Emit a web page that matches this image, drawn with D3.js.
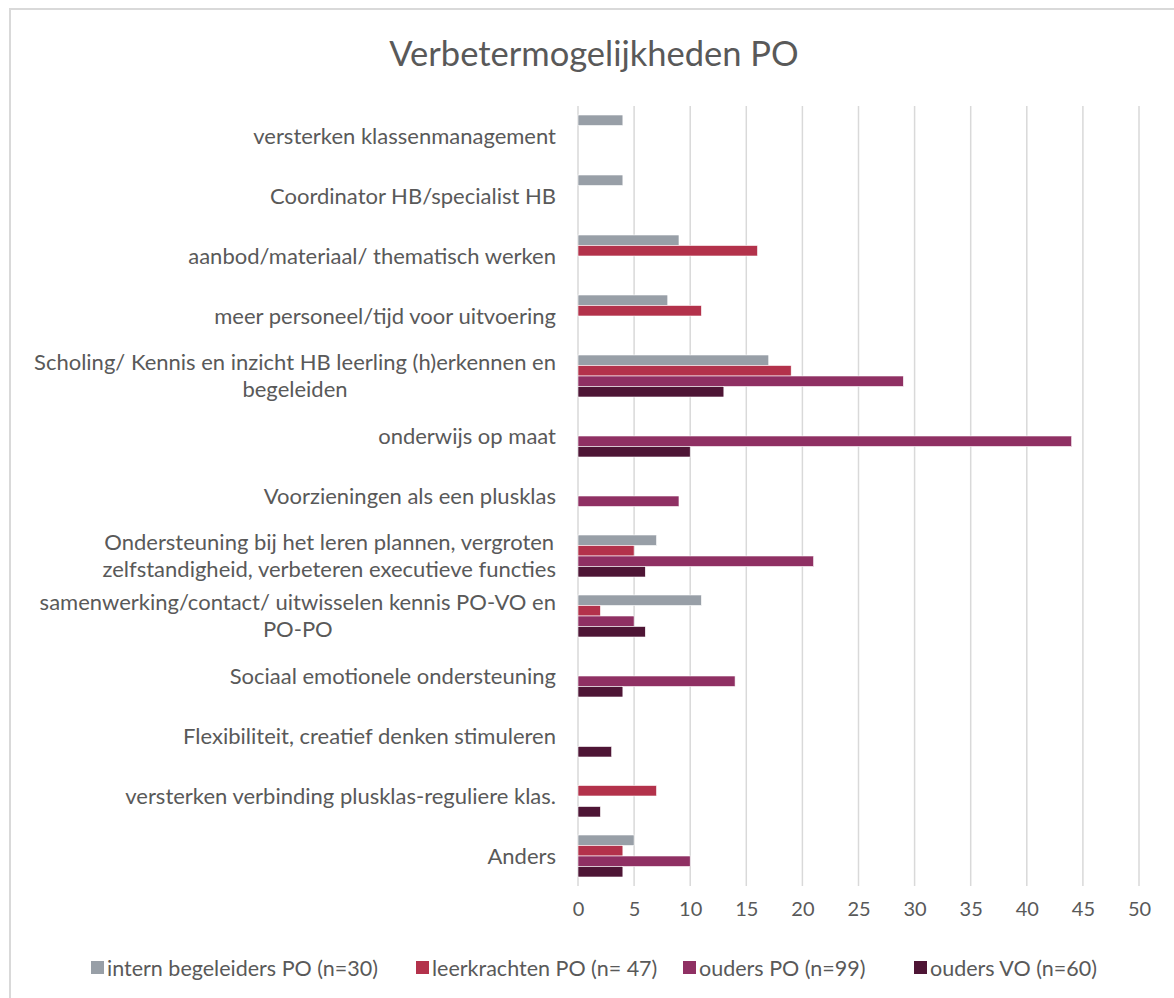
<!DOCTYPE html>
<html>
<head>
<meta charset="utf-8">
<script src="https://cdn.jsdelivr.net/npm/d3@7"></script>
<style>
  body { margin: 0; background: #fff; }
  text { font-family: Lato, "Open Sans", sans-serif; fill: #595959; }
</style>
</head>
<body>
<svg width="1174" height="998"></svg>
<script>
// categories, top to bottom (each entry is the list of lines of its label)
const categories = [
    ["versterken klassenmanagement"],
    ["Coordinator HB/specialist HB"],
    ["aanbod/materiaal/ thematisch werken"],
    ["meer personeel/tijd voor uitvoering"],
    ["Scholing/ Kennis en inzicht HB leerling (h)erkennen en", "begeleiden"],
    ["onderwijs op maat"],
    ["Voorzieningen als een plusklas"],
    ["Ondersteuning bij het leren plannen, vergroten", "zelfstandigheid, verbeteren executieve functies"],
    ["samenwerking/contact/ uitwisselen kennis PO-VO en", "PO-PO"],
    ["Sociaal emotionele ondersteuning"],
    ["Flexibiliteit, creatief denken stimuleren"],
    ["versterken verbinding plusklas-reguliere klas."],
    ["Anders"]
];

const seriesNames = ["intern begeleiders PO (n=30)", "leerkrachten PO (n= 47)", "ouders PO (n=99)", "ouders VO (n=60)"];

// values per series, same order as categories (0 = no bar)
const internBegeleiders = [4, 4, 9, 8, 17, 0, 0, 7, 11, 0, 0, 0, 5];
const leerkrachten      = [0, 0, 16, 11, 19, 0, 0, 5, 2, 0, 0, 7, 4];
const oudersPO          = [0, 0, 0, 0, 29, 44, 9, 21, 5, 14, 0, 0, 10];
const oudersVO          = [0, 0, 0, 0, 13, 10, 0, 6, 6, 4, 3, 2, 4];

const xTicks = [0, 5, 10, 15, 20, 25, 30, 35, 40, 45, 50];

const seriesValues = [internBegeleiders, leerkrachten, oudersPO, oudersVO];
const colors = ["#989fa7", "#b3324b", "#8f3063", "#4e1535"];

const svg = d3.select("svg");

// chart frame
svg.append("rect")
   .attr("x", 10).attr("y", 9)
   .attr("width", 1180).attr("height", 1000)
   .attr("fill", "none")
   .attr("stroke", "#d9d9d9")
   .attr("stroke-width", 2);

svg.append("text")
   .attr("x", 594).attr("y", 66)
   .attr("text-anchor", "middle")
   .style("font-size", "34.5px")
   .text("Verbetermogelijkheden PO");

const plotLeft = 578, plotRight = 1139, plotTop = 106, plotBottom = 886;

const x = d3.scaleLinear().domain([0, 50]).range([plotLeft, plotRight]);
const y = d3.scaleBand().domain(d3.range(categories.length)).range([plotTop, plotBottom]).paddingInner(0.3).paddingOuter(0.15);
const ySub = d3.scaleBand().domain(d3.range(seriesNames.length)).range([0, y.bandwidth()]);

// gridlines
svg.append("g")
   .selectAll("line")
   .data(xTicks)
   .join("line")
   .attr("x1", d => x(d)).attr("x2", d => x(d))
   .attr("y1", plotTop).attr("y2", plotBottom)
   .attr("stroke", "#d9d9d9")
   .attr("stroke-width", 1.5);

// x axis tick labels
const xAxis = svg.append("g")
   .attr("transform", `translate(0,${plotBottom})`)
   .call(d3.axisBottom(x).tickValues(xTicks).tickSize(0).tickPadding(16));
xAxis.select(".domain").remove();
xAxis.selectAll("text")
   .style("font-size", "20px")
   .style("font-family", "Lato, 'Open Sans', sans-serif")
   .attr("fill", "#595959");

// bars
const groups = svg.append("g")
   .selectAll("g")
   .data(categories.map((c, i) => i))
   .join("g")
   .attr("transform", i => `translate(0,${y(i)})`);

groups.selectAll("rect")
   .data(i => seriesValues.map((vals, s) => ({s: s, v: vals[i]})).filter(d => d.v > 0))
   .join("rect")
   .attr("x", x(0))
   .attr("y", d => ySub(d.s))
   .attr("width", d => x(d.v) - x(0))
   .attr("height", ySub.bandwidth())
   .attr("fill", d => colors[d.s])
   .attr("stroke", "#fff")
   .attr("stroke-width", 0.6);

// category labels, lines centred within a block aligned to the right
const lineH = 27;
categories.forEach(function(lines, i) {
    const cy = y(i) + y.bandwidth() / 2;
    const g = svg.append("g");
    const texts = lines.map((l, k) => g.append("text")
        .attr("y", cy + (k - (lines.length - 1) / 2) * lineH)
        .attr("dy", "0.35em")
        .attr("text-anchor", "middle")
        .style("font-size", "22px")
        .text(l));
    const w = d3.max(texts, t => t.node().getComputedTextLength());
    texts.forEach(t => t.attr("x", 556 - w / 2));
});

// legend
const legendX = [91, 416, 683, 914];
const legend = svg.append("g")
   .selectAll("g")
   .data(seriesNames)
   .join("g")
   .attr("transform", (d, i) => `translate(${legendX[i]},968)`);
legend.append("rect")
   .attr("x", 0).attr("y", -7)
   .attr("width", 13).attr("height", 13)
   .attr("fill", (d, i) => colors[i]);
legend.append("text")
   .attr("x", 16)
   .attr("dy", "0.35em")
   .style("font-size", "21.5px")
   .text(d => d);
</script>
</body>
</html>
